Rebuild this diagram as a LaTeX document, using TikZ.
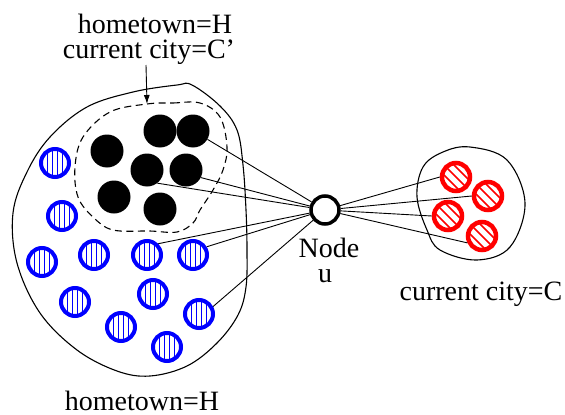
\documentclass[tikz,border=0pt]{standalone}
\usepackage{fontspec}
\setmainfont{Liberation Serif}
\usetikzlibrary{arrows.meta,calc}
\begin{document}
\begin{tikzpicture}[x=1pt,y=-1pt,
  lbl/.style={font=\fontsize{28}{25}\selectfont,inner sep=0pt,anchor=base},
  blk/.style={circle,fill=black,minimum size=33pt,inner sep=0pt},
  bluec/.style={circle,draw=blue,line width=4pt,minimum size=28pt,inner sep=0pt,
    path picture={\foreach \d in {-7.5,-2.5,2.5,7.5}{\draw[blue,line width=1.1pt] ([xshift=\d pt]path picture bounding box.north) -- ([xshift=\d pt]path picture bounding box.south);}}},
  redc/.style={circle,draw=red,line width=4.5pt,minimum size=28pt,inner sep=0pt,
    path picture={\foreach \d in {-7,0,7}{\draw[red,line width=1.6pt] ([shift={(\d*0.7071pt-14pt,\d*0.7071pt+14pt)}]path picture bounding box.center) -- ([shift={(\d*0.7071pt+14pt,\d*0.7071pt-14pt)}]path picture bounding box.center);}}},
  unode/.style={circle,draw=black,fill=white,line width=3.5pt,minimum size=28pt,inner sep=0pt},
  blob/.style={draw=black,line width=1.1pt},
  conn/.style={draw=black,line width=0.9pt}
]
\useasboundingbox (0,0) rectangle (565,415);

% outer region
\draw[blob] plot[smooth cycle,tension=0.6] coordinates {(192,85) (220,106) (237,130) (243,165) (246,210) (247,250) (246,287) (238,315) (217,343) (187,366) (150,376) (117,371) (77,350) (40,313) (17,263) (13,213) (27,172) (50,137) (87,107) (133,92) (177,85)};
% dashed region
\draw[blob,dash pattern=on 7pt off 4.5pt] plot[smooth cycle,tension=0.6] coordinates {(147,104) (173,103) (200,103) (220,117) (227,147) (223,170) (213,190) (200,210) (193,223) (177,232) (150,231) (113,230) (93,217) (78,197) (75,167) (83,137) (110,112)};
% right region
\draw[blob] plot[smooth cycle,tension=0.6] coordinates {(470,147) (507,160) (525,203) (510,247) (477,260) (440,250) (427,230) (417,197) (423,167) (443,152)};

% black nodes
\node[blk] (b1) at (160,131) {};
\node[blk] (b2) at (193,131) {};
\node[blk] (b3) at (107,151) {};
\node[blk] (b4) at (147,170) {};
\node[blk] (b5) at (186,170) {};
\node[blk] (b6) at (114,197) {};
\node[blk] (b7) at (160,209) {};

% blue nodes
\node[bluec] (l1) at (55,163) {};
\node[bluec] (l2) at (62,216) {};
\node[bluec] (l3) at (42,262) {};
\node[bluec] (l4) at (94,255) {};
\node[bluec] (l5) at (147,255) {};
\node[bluec] (l6) at (193,255) {};
\node[bluec] (l7) at (75,302) {};
\node[bluec] (l8) at (153,294) {};
\node[bluec] (l9) at (199,314) {};
\node[bluec] (l10) at (121,327) {};
\node[bluec] (l11) at (167,347) {};

% red nodes
\node[redc] (r1) at (456,177) {};
\node[redc] (r2) at (488,196) {};
\node[redc] (r3) at (448,216) {};
\node[redc] (r4) at (482,236) {};

% node u
\node[unode] (u) at (325,210) {};

% connectors
\draw[conn] (b2.-30) -- (u);
\draw[conn] (b5.-27) -- (u);
\draw[conn] (b4.-52) -- (u);
\draw[conn] (l5.45) -- (u);
\draw[conn] (l6.31) -- (u);
\draw[conn] (l9.28) -- (u);
\draw[conn] (u) -- (r1.180);
\draw[conn] (u) -- (r2.180);
\draw[conn] (u) -- (r3.180);
\draw[conn] (u) -- (r4.205);

% labels
\node[lbl] (t1) at (155,33) {hometown=H};
\node[lbl] (t2) at (149,58) {current city=C’};
\coordinate (as) at (146,65);
\coordinate (ae) at (147,104);
\draw[conn,-{Latex[length=9pt,width=6pt]}] (as) -- (ae);
\node[lbl] (n1) at (329,257) {Node};
\node[lbl] (n2) at (325,282) {u};
\node[lbl] (t3) at (481,300) {current city=C};
\node[lbl] (t4) at (142,410) {hometown=H};
\end{tikzpicture}
\end{document}
